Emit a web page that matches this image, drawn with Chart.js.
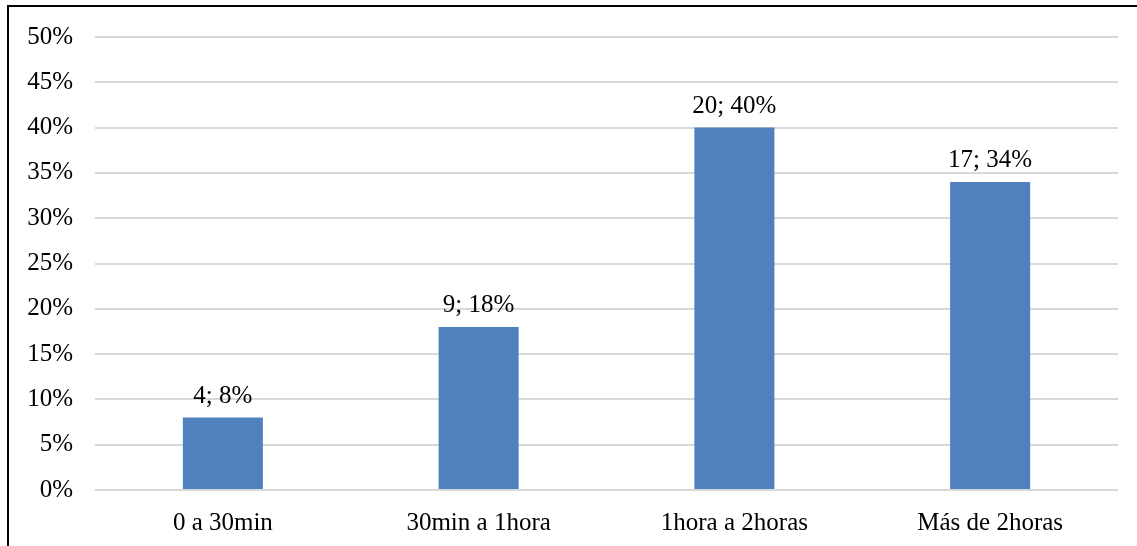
<!DOCTYPE html>
<html>
<head>
<meta charset="utf-8">
<script src="https://cdn.jsdelivr.net/npm/chart.js@4/dist/chart.umd.min.js"></script>
<style>
  html, body { margin: 0; padding: 0; background: #fff; }
  #wrap { position: relative; width: 1137px; height: 546px; }
</style>
</head>
<body>
<div id="wrap"><canvas id="c" width="1137" height="546"></canvas></div>
<script>
// Time ranges and responses (count and share of respondents)
const categories = ['0 a 30min', '30min a 1hora', '1hora a 2horas', 'Más de 2horas'];
const counts = [4, 9, 20, 17];
const percents = [8, 18, 40, 34];
const yTicks = [0, 5, 10, 15, 20, 25, 30, 35, 40, 45, 50];

const FONT = 'Liberation Serif';

// Value labels "n; p%" above each bar
const valueLabels = {
  id: 'valueLabels',
  afterDatasetsDraw(chart) {
    const ctx = chart.ctx;
    const meta = chart.getDatasetMeta(0);
    ctx.save();
    ctx.font = '25px "' + FONT + '"';
    ctx.fillStyle = '#000';
    ctx.textAlign = 'center';
    ctx.textBaseline = 'alphabetic';
    meta.data.forEach((bar, i) => {
      ctx.fillText(counts[i] + '; ' + percents[i] + '%', bar.x, bar.y - 15);
    });
    ctx.restore();
  }
};

// Frame lines along the top and left edges
const frame = {
  id: 'frame',
  afterDraw(chart) {
    const ctx = chart.ctx;
    ctx.save();
    ctx.fillStyle = '#000';
    ctx.fillRect(7, 5, chart.width - 7, 2);
    ctx.fillRect(7, 5, 2, chart.height - 5);
    ctx.restore();
  }
};

new Chart(document.getElementById('c'), {
  type: 'bar',
  data: {
    labels: categories,
    datasets: [{
      data: percents,
      backgroundColor: '#4F81BD',
      borderWidth: 0,
      barPercentage: 0.313,
      categoryPercentage: 1.0
    }]
  },
  options: {
    responsive: false,
    animation: false,
    layout: { padding: { left: 0, right: 19, top: 35, bottom: 0 } },
    plugins: { legend: { display: false }, tooltip: { enabled: false } },
    scales: {
      x: {
        grid: { display: false, drawTicks: false },
        border: { display: false },
        ticks: { color: '#000', font: { family: FONT, size: 25 }, padding: 18 },
        afterFit(scale) { scale.height = 56; }
      },
      y: {
        min: 0,
        max: 50,
        afterBuildTicks(scale) { scale.ticks = yTicks.map(v => ({ value: v })); },
        grid: { color: '#d9d9d9', lineWidth: 2, drawTicks: false },
        border: { display: false },
        ticks: {
          color: '#000',
          font: { family: FONT, size: 25 },
          padding: 22,
          callback: v => v + '%'
        },
        afterFit(scale) { scale.width = 95; }
      }
    }
  },
  plugins: [valueLabels, frame]
});
</script>
</body>
</html>
